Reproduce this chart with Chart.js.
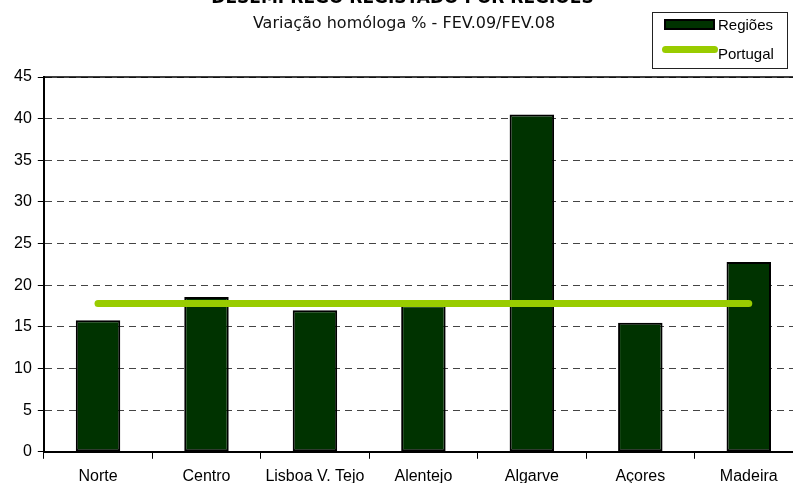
<!DOCTYPE html>
<html lang="pt">
<head>
<meta charset="UTF-8">
<title>Desemprego registado por regiões</title>
<script src="https://cdn.jsdelivr.net/npm/chart.js"></script>
<style>
	body { margin: 0; width: 793px; height: 483px; overflow: hidden; position: relative; background: #fff; font-family: "Liberation Sans", Arial, sans-serif; }
	#wrap { position: absolute; left: 0; top: 0; width: 807px; height: 494px; }
	.titulo { position: absolute; left: 0; width: 805px; text-align: center; top: -11px; font: bold 17px "DejaVu Sans", sans-serif; line-height: 17px; color: #000; }
	.subtitulo { position: absolute; left: 0; width: 808px; text-align: center; top: 13px; font-size: 16px; line-height: 20px; font-family: "DejaVu Sans", sans-serif; color: #111; }
	.legenda { position: absolute; left: 652px; top: 12px; width: 134px; height: 55px; border: 1px solid #222; font-size: 15px; }
	.leg-item { position: absolute; left: 0; height: 18px; line-height: 18px; }
	.leg-bar { position: absolute; left: 11px; top: 3px; width: 47px; height: 7px; background: #003300; border: 2px solid #000; }
	.leg-linha { position: absolute; left: 9px; top: 4px; width: 56px; height: 7px; background: #99cc00; border-radius: 4px; }
	.leg-txt { position: absolute; left: 65px; top: 0; white-space: nowrap; }
</style>
</head>
<body>
	<div id="wrap"><canvas id="grafico" width="807" height="494"></canvas></div>
	<div class="titulo">DESEMPREGO REGISTADO POR REGIÕES</div>
	<div class="subtitulo">Variação homóloga % - FEV.09/FEV.08</div>
	<div class="legenda">
		<div class="leg-item" style="top:3px;"><div class="leg-bar"></div><span class="leg-txt">Regiões</span></div>
		<div class="leg-item" style="top:29px;"><div class="leg-linha"></div><span class="leg-txt" style="top:3px;">Portugal</span></div>
	</div>

	<script>
		const regioes = ['Norte', 'Centro', 'Lisboa V. Tejo', 'Alentejo', 'Algarve', 'Açores', 'Madeira'];
		const valoresRegioes = [15.8, 18.6, 17.0, 17.6, 40.5, 15.5, 22.8];
		const valorPortugal = [17.8, 17.8, 17.8, 17.8, 17.8, 17.8, 17.8];
		const ticksY = [0, 5, 10, 15, 20, 25, 30, 35, 40, 45];

		// moldura superior da área do gráfico
		const moldura = {
			id: 'moldura',
			afterDraw(chart) {
				const { ctx, chartArea } = chart;
				ctx.save();
				ctx.strokeStyle = '#000';
				ctx.lineWidth = 1.5;
				ctx.beginPath();
				ctx.moveTo(chartArea.left, chartArea.top);
				ctx.lineTo(chartArea.right, chartArea.top);
				ctx.lineTo(chartArea.right, chartArea.bottom);
				ctx.stroke();
				ctx.restore();
			}
		};

		const ctx = document.getElementById('grafico').getContext('2d');
		new Chart(ctx, {
			data: {
				labels: regioes,
				datasets: [
					{
						type: 'line',
						label: 'Portugal',
						data: valorPortugal,
						borderColor: '#99cc00',
						borderWidth: 7,
						borderCapStyle: 'round',
						pointRadius: 0,
						fill: false,
						order: 0
					},
					{
						type: 'bar',
						label: 'Regiões',
						data: valoresRegioes,
						backgroundColor: '#003300',
						borderColor: '#000',
						borderWidth: 2,
						borderSkipped: false,
						categoryPercentage: 1,
						barPercentage: 0.41,
						order: 1
					}
				]
			},
			options: {
				responsive: false,
				animation: false,
				layout: { padding: { top: 77, right: 4, left: 8, bottom: 0 } },
				plugins: { legend: { display: false }, tooltip: { enabled: false } },
				scales: {
					x: {
						offset: true,
						grid: { drawOnChartArea: false, offset: true, tickLength: 7, tickColor: '#000', tickWidth: 1 },
						border: { color: '#000', width: 2 },
						ticks: { color: '#000', font: { family: 'Liberation Sans', size: 16 }, padding: 8, maxRotation: 0, autoSkip: false }
					},
					y: {
						min: 0,
						max: 45,
						afterBuildTicks(axis) { axis.ticks = ticksY.map(v => ({ value: v })); },
						grid: {
							color: '#444',
							lineWidth: 1,
							tickColor: '#000',
							tickLength: 6,
							tickBorderDash: []
						},
						border: { color: '#000', width: 2, dash: [7, 5] },
						ticks: { color: '#000', font: { family: 'Liberation Sans', size: 16 }, padding: 6 }
					}
				}
			},
			plugins: [moldura]
		});
	</script>
</body>
</html>
